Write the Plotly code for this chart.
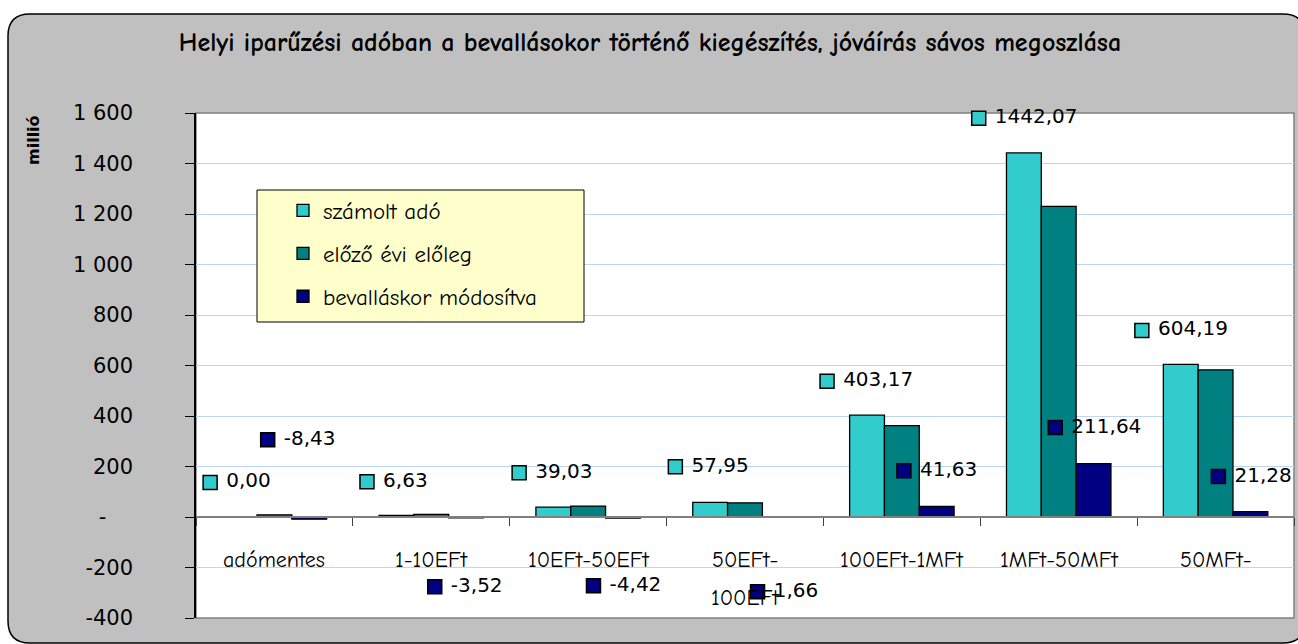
import plotly.graph_objects as go

# ---------------- data ----------------
categories = ["adómentes", "1-10EFt", "10EFt-50EFt", "50EFt-100EFt",
              "100EFt-1MFt", "1MFt-50MFt", "50MFt-"]
category_lines = [["adómentes"], ["1-10EFt"], ["10EFt-50EFt"], ["50EFt-", "100EFt"],
                  ["100EFt-1MFt"], ["1MFt-50MFt"], ["50MFt-"]]
series_names = ["számolt adó", "előző évi előleg", "bevalláskor módosítva"]
szamolt_ado = [0.00, 6.63, 39.03, 57.95, 403.17, 1442.07, 604.19]
elozo_evi_eloleg = [8.43, 10.15, 43.45, 56.29, 361.54, 1230.43, 582.91]
bevallaskor_modositva = [-8.43, -3.52, -4.42, 1.66, 41.63, 211.64, 21.28]
y_tickvals = [-400, -200, 0, 200, 400, 600, 800, 1000, 1200, 1400, 1600]
y_ticktext = ["-400", "-200", "-\u00a0\u00a0\u00a0\u00a0", "200", "400", "600", "800",
              "1\u00a0000", "1\u00a0200", "1\u00a0400", "1\u00a0600"]
title_text = "Helyi iparűzési adóban a bevallásokor történő kiegészítés, jóváírás sávos megoszlása"
y_title = "millió"

# ---------------- style ----------------
colors = ["#33CCCC", "#008080", "#000080"]
TICKFONT = "Tahoma, Verdana, DejaVu Sans"
COMIC = "Comic Sans MS, Comic Neue, DejaVu Sans"
# label placement (Excel-dragged labels): offset in category units, height in axis units
s1_label_dx = [-0.41, -0.41, -0.44, -0.444, -0.477, -0.51, -0.47]
s1_label_y = [137, 140, 175, 199, 538, 1579, 739]
s3_label_dx = [-0.043, 0.022, 0.034, 0.08, 0.013, -0.022, 0.018]
s3_label_y = [306, -276, -272, -296, 183, 354, 160]

FW, FH = 1298, 644
L, R, T, B = 196, 1294, 113, 618
PW, PH = R - L, B - T


def px(x):
    return (x - L) / PW


def py(y):
    return (B - y) / PH


def fmt(v):
    return "\u00a0" + f"{v:.2f}".replace(".", ",")


fig = go.Figure()
for name, vals, col in zip(series_names, [szamolt_ado, elozo_evi_eloleg, bevallaskor_modositva], colors):
    fig.add_trace(go.Bar(
        x=categories, y=vals, name=name, legendgroup=name,
        marker=dict(color=col, line=dict(color="black", width=1.3)),
        hoverinfo="x+y+name",
    ))

# data labels with legend keys
for vals, dxs, ys, col in [(szamolt_ado, s1_label_dx, s1_label_y, colors[0]),
                           (bevallaskor_modositva, s3_label_dx, s3_label_y, colors[2])]:
    fig.add_trace(go.Scatter(
        x=[i + d for i, d in enumerate(dxs)], y=ys, xaxis="x2", yaxis="y",
        mode="markers+text", text=[fmt(v) for v in vals], textposition="middle right",
        textfont=dict(family=TICKFONT, size=20, color="black"),
        marker=dict(symbol="square", size=14, color=col, line=dict(color="black", width=1.5)),
        showlegend=False, hoverinfo="skip", cliponaxis=False,
    ))

# rounded grey frame
x0, y0, x1, y1, r = 8, 14, 1305, 643, 22
path = (f"M{px(x0 + r)},{py(y0)} L{px(x1 - r)},{py(y0)} Q{px(x1)},{py(y0)} {px(x1)},{py(y0 + r)} "
        f"L{px(x1)},{py(y1 - r)} Q{px(x1)},{py(y1)} {px(x1 - r)},{py(y1)} "
        f"L{px(x0 + r)},{py(y1)} Q{px(x0)},{py(y1)} {px(x0)},{py(y1 - r)} "
        f"L{px(x0)},{py(y0 + r)} Q{px(x0)},{py(y0)} {px(x0 + r)},{py(y0)} Z")
shapes = [
    dict(type="path", path=path, xref="paper", yref="paper", fillcolor="#C0C0C0",
         line=dict(color="black", width=1.5), layer="below"),
    dict(type="rect", x0=0, x1=1, y0=0, y1=1, xref="paper", yref="paper",
         fillcolor="white", line=dict(color="#808080", width=1.5), layer="below"),
    dict(type="rect", x0=px(257), x1=px(584), y0=py(190), y1=py(322), xref="paper", yref="paper",
         fillcolor="#FFFFCC", line=dict(color="black", width=1), layer="above"),
]

annotations = []
for cat, lines in zip(categories, category_lines):
    for k, ln in enumerate(lines):
        annotations.append(dict(x=cat, xref="x", y=0, yref="y", yshift=-43 - 38 * k,
                                text=ln, showarrow=False, yanchor="middle",
                                font=dict(family=COMIC, size=22, color="black")))
annotations.append(dict(x=px(33), y=py(140), xref="paper", yref="paper", text=f"<b>{y_title}</b>",
                        textangle=-90, showarrow=False, xanchor="center", yanchor="middle",
                        font=dict(family=TICKFONT, size=16, color="black")))

fig.update_layout(
    width=FW, height=FH,
    margin=dict(l=L, r=FW - R, t=T, b=FH - B, pad=0),
    paper_bgcolor="white", plot_bgcolor="rgba(0,0,0,0)",
    title=dict(text=f"<b>{title_text}</b>", x=650 / FW, xref="container", xanchor="center",
               y=1 - 42 / FH, yref="container", yanchor="middle",
               font=dict(family=COMIC, size=26, color="black")),
    barmode="group", bargap=0.334, bargroupgap=0,
    shapes=shapes, annotations=annotations,
    showlegend=True,
    legend=dict(x=px(283), y=py(189), xanchor="left", yanchor="top", bgcolor="rgba(0,0,0,0)",
                borderwidth=0, font=dict(family=COMIC, size=23, color="black"),
                tracegroupgap=10, traceorder="grouped"),
    xaxis=dict(type="category", anchor="free", position=0.2, showline=True, linecolor="#808080",
               linewidth=1.5, ticks="outside", tickson="boundaries", ticklen=8, tickcolor="#404040",
               showticklabels=False, showgrid=False, zeroline=False, fixedrange=True),
    xaxis2=dict(overlaying="x", range=[-0.5, 6.5], visible=False, fixedrange=True),
    yaxis=dict(range=[-400, 1600], tickvals=y_tickvals, ticktext=y_ticktext, showgrid=True,
               gridcolor="#BCD6F4", gridwidth=1, zeroline=False, showline=True, linecolor="black",
               linewidth=1.5, ticks="outside", ticklen=9, tickcolor="black", ticklabelstandoff=48,
               tickfont=dict(family=TICKFONT, size=21, color="black"), fixedrange=True),
)

fig.write_html("out.html", config={"displayModeBar": False},
               post_script="document.body.style.margin='0';document.body.style.overflow='hidden';")
